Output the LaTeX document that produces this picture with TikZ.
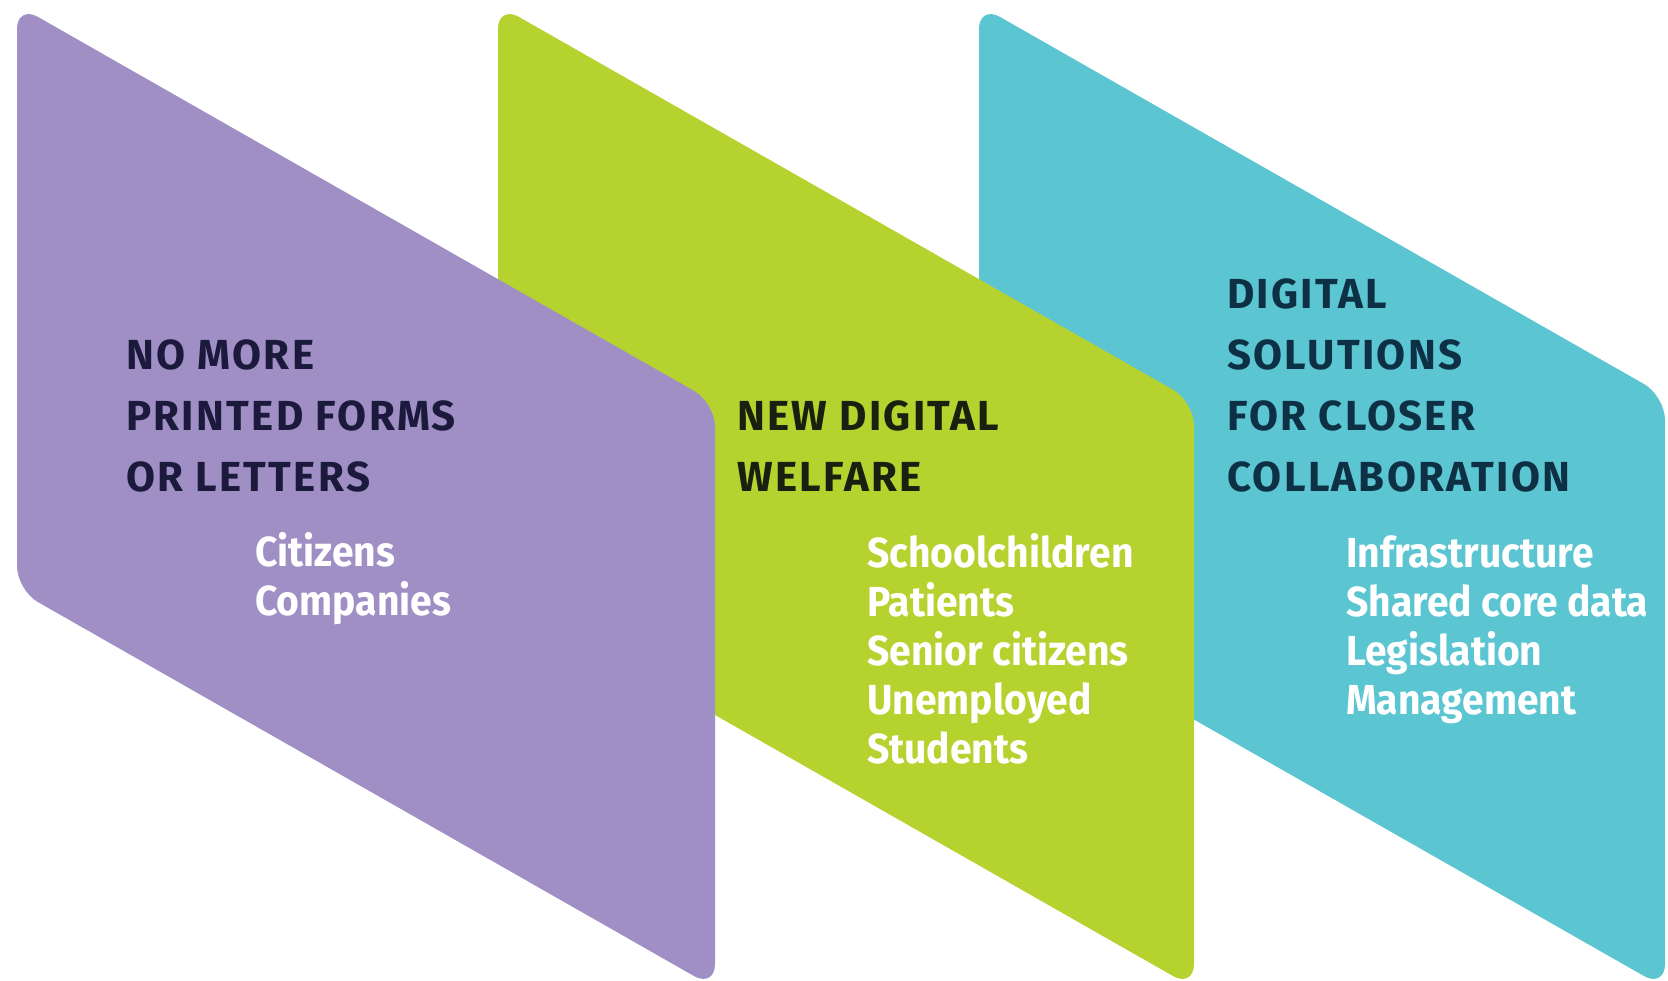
\documentclass[tikz,border=0pt]{standalone}
\usepackage{fontspec}
\setmainfont{Fira Sans}
\newfontfamily\titlefont{Fira Sans}[LetterSpace=5.5]
\newfontfamily\itemfont{Fira Sans}[FakeStretch=0.93]
\usetikzlibrary{positioning}

\definecolor{cardpurple}{HTML}{A08FC4}
\definecolor{cardgreen}{HTML}{B5D22F}
\definecolor{cardcyan}{HTML}{5BC5D2}
\definecolor{navypurple}{HTML}{1C1A3C}
\definecolor{navygreen}{HTML}{18200F}
\definecolor{navycyan}{HTML}{0E3044}

% slanted card: left x, width, colour
\newcommand{\card}[3]{%
  \fill[#3, rounded corners=24pt] (#1,5) -- ({#1+#2},{5+0.57*#2})
    -- ({#1+#2},988) -- (#1,{988-0.57*#2}) -- cycle;}

\begin{document}
\begin{tikzpicture}[x=1pt, y=-1pt,
    title/.style={anchor=base west, align=left, inner sep=0pt,
      font=\titlefont\bfseries\fontsize{42}{61}\selectfont},
    items/.style={anchor=base west, align=left, inner sep=0pt, text=white,
      font=\itemfont\bfseries\fontsize{42}{49}\selectfont}]
    \useasboundingbox (0,0) rectangle (1668,981);

    \card{979}{686}{cardcyan}
    \card{498}{696}{cardgreen}
    \card{17}{698}{cardpurple}

    % base anchor sits on the last line
    \node[title, text=navypurple] (paper) at (126,491) {NO MORE\\PRINTED FORMS\\OR LETTERS};
    \node[items] (paperitems) at (255,615) {Citizens\\Companies};

    \node[title, text=navygreen] (welfare) at (737,491) {NEW DIGITAL\\WELFARE};
    \node[items] (welfareitems) at (867,763) {Schoolchildren\\Patients\\Senior citizens\\Unemployed\\Students};

    \node[title, text=navycyan] (collab) at (1227,491) {DIGITAL\\SOLUTIONS\\FOR CLOSER\\COLLABORATION};
    \node[items] (collabitems) at (1346,714) {Infrastructure\\Shared core data\\Legislation\\Management};
\end{tikzpicture}
\end{document}
